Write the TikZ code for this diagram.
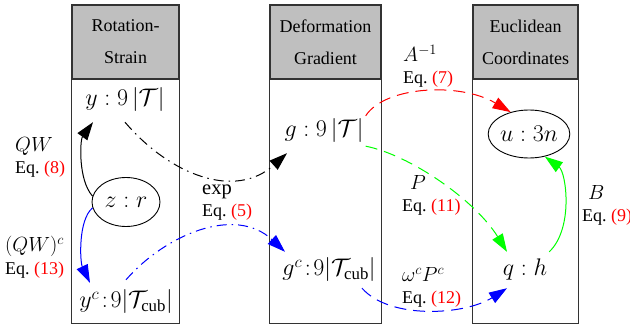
\RequirePackage{fix-cm}
\documentclass[tikz,border=0pt]{standalone}
\usepackage{fontspec}
\setmainfont{Liberation Serif}
\usetikzlibrary{arrows.meta,calc,shapes.geometric}

\newcommand{\eqn}[1]{Eq.~\textcolor{red}{(#1)}}
\newcommand{\lm}[1]{{\fontsize{20.5}{22}\selectfont$#1$}}

\begin{document}
\begin{tikzpicture}[x=1pt,y=-1pt,
  hd/.style={draw=black!80,line width=1.2pt,fill=black!25,minimum height=74pt,align=center,font=\fontsize{18}{32}\selectfont},
  bx/.style={draw=black!80,line width=1.2pt},
  v/.style={inner sep=2pt,font=\fontsize{24}{28}\selectfont},
  ov/.style={v,ellipse,draw,line width=0.9pt,inner sep=0pt},
  lb/.style={align=left,anchor=base west,inner sep=0pt,font=\fontsize{18}{22}\selectfont},
  ar/.style={line width=1pt,-{Triangle[length=18pt,width=12pt]}},
  dd/.style={dash pattern=on 10pt off 5pt on 1.5pt off 5pt},
  ds/.style={dash pattern=on 12pt off 7pt}
]
  \useasboundingbox (0,0) rectangle (630,326);
  % columns
  \node[hd,minimum width=107pt] (rshead) at (125.5,42) {Rotation-\\Strain};
  \node[hd,minimum width=111pt] (dghead) at (325.5,42) {Deformation\\Gradient};
  \node[hd,minimum width=105pt] (echead) at (525.5,42) {Euclidean\\Coordinates};
  \draw[bx] (rshead.south west) rectangle ($(rshead.south east)+(0,244)$);
  \draw[bx] (dghead.south west) rectangle ($(dghead.south east)+(0,244)$);
  \draw[bx] (echead.south west) rectangle ($(echead.south east)+(0,244)$);
  % variables
  \node[v,minimum height=44pt] (y) at (125,100) {$y : 9\,|\mathcal{T}|$};
  \node[ov,minimum width=68pt,minimum height=49pt] (z) at (126,202) {$z : r$};
  \node[v,minimum height=44pt] (yc) at (126,302) {$y^c\!:\!9|\mathcal{T}_{\mathrm{cub}}|$};
  \node[v,minimum height=44pt] (g) at (324,131) {$g : 9\,|\mathcal{T}|$};
  \node[v,minimum height=36pt] (gc) at (329,270) {$g^c\!:\!9|\mathcal{T}_{\mathrm{cub}}|$};
  \node[ov,minimum width=68pt,minimum height=48pt] (u) at (529,134) {$u : 3n$};
  \node[v,minimum height=36pt] (q) at (525,270) {$q : h$};
  % maps
  \draw[ar] (z.170) .. controls (78,180) and (80,140) .. ($(y.south)+(-32,0)$);
  \draw[ar,blue] (z.190) .. controls (78,220) and (80,262) .. ($(yc.north)+(-36,3)$);
  \draw[ar,dd] (y.south) .. controls (170,175) and (235,200) .. ($(g.south)+(-37,0)$);
  \draw[ar,dd,blue] (yc.north) .. controls (165,235) and (235,205) .. ($(gc.north)+(-44,0)$);
  \draw[ar,ds,red] (g.20) .. controls (385,86) and (460,82) .. (u.130);
  \draw[ar,ds,green] (g.-20) .. controls (410,155) and (475,200) .. ($(q.north)+(-18,0)$);
  \draw[ar,ds,blue] ($(gc.south)+(33,0)$) .. controls (390,320) and (465,315) .. ($(q.south)+(-18,0)$);
  \draw[ar,green] (q.north east) .. controls (574,228) and (566,172) .. (u.-55);
  % labels
  \node[lb] (lqw) at (15,174) {\lm{QW}\\\eqn{8}};
  \node[lb] (lqwc) at (5,274) {\lm{(QW)^c}\\\eqn{13}};
  \node[lb] (lexp) at (202,217) {\lm{\exp}\\\eqn{5}};
  \node[lb] (linv) at (403,84) {\lm{A^{-1}}\\\eqn{7}};
  \node[lb] (lp) at (402,212) {\hspace{8pt}\lm{P}\\\eqn{11}};
  \node[lb] (lom) at (402,304) {\lm{\omega^c P^c}\\\eqn{12}};
  \node[lb] (lB) at (582,222) {\hspace{6pt}\lm{B}\\\eqn{9}};
\end{tikzpicture}
\end{document}
